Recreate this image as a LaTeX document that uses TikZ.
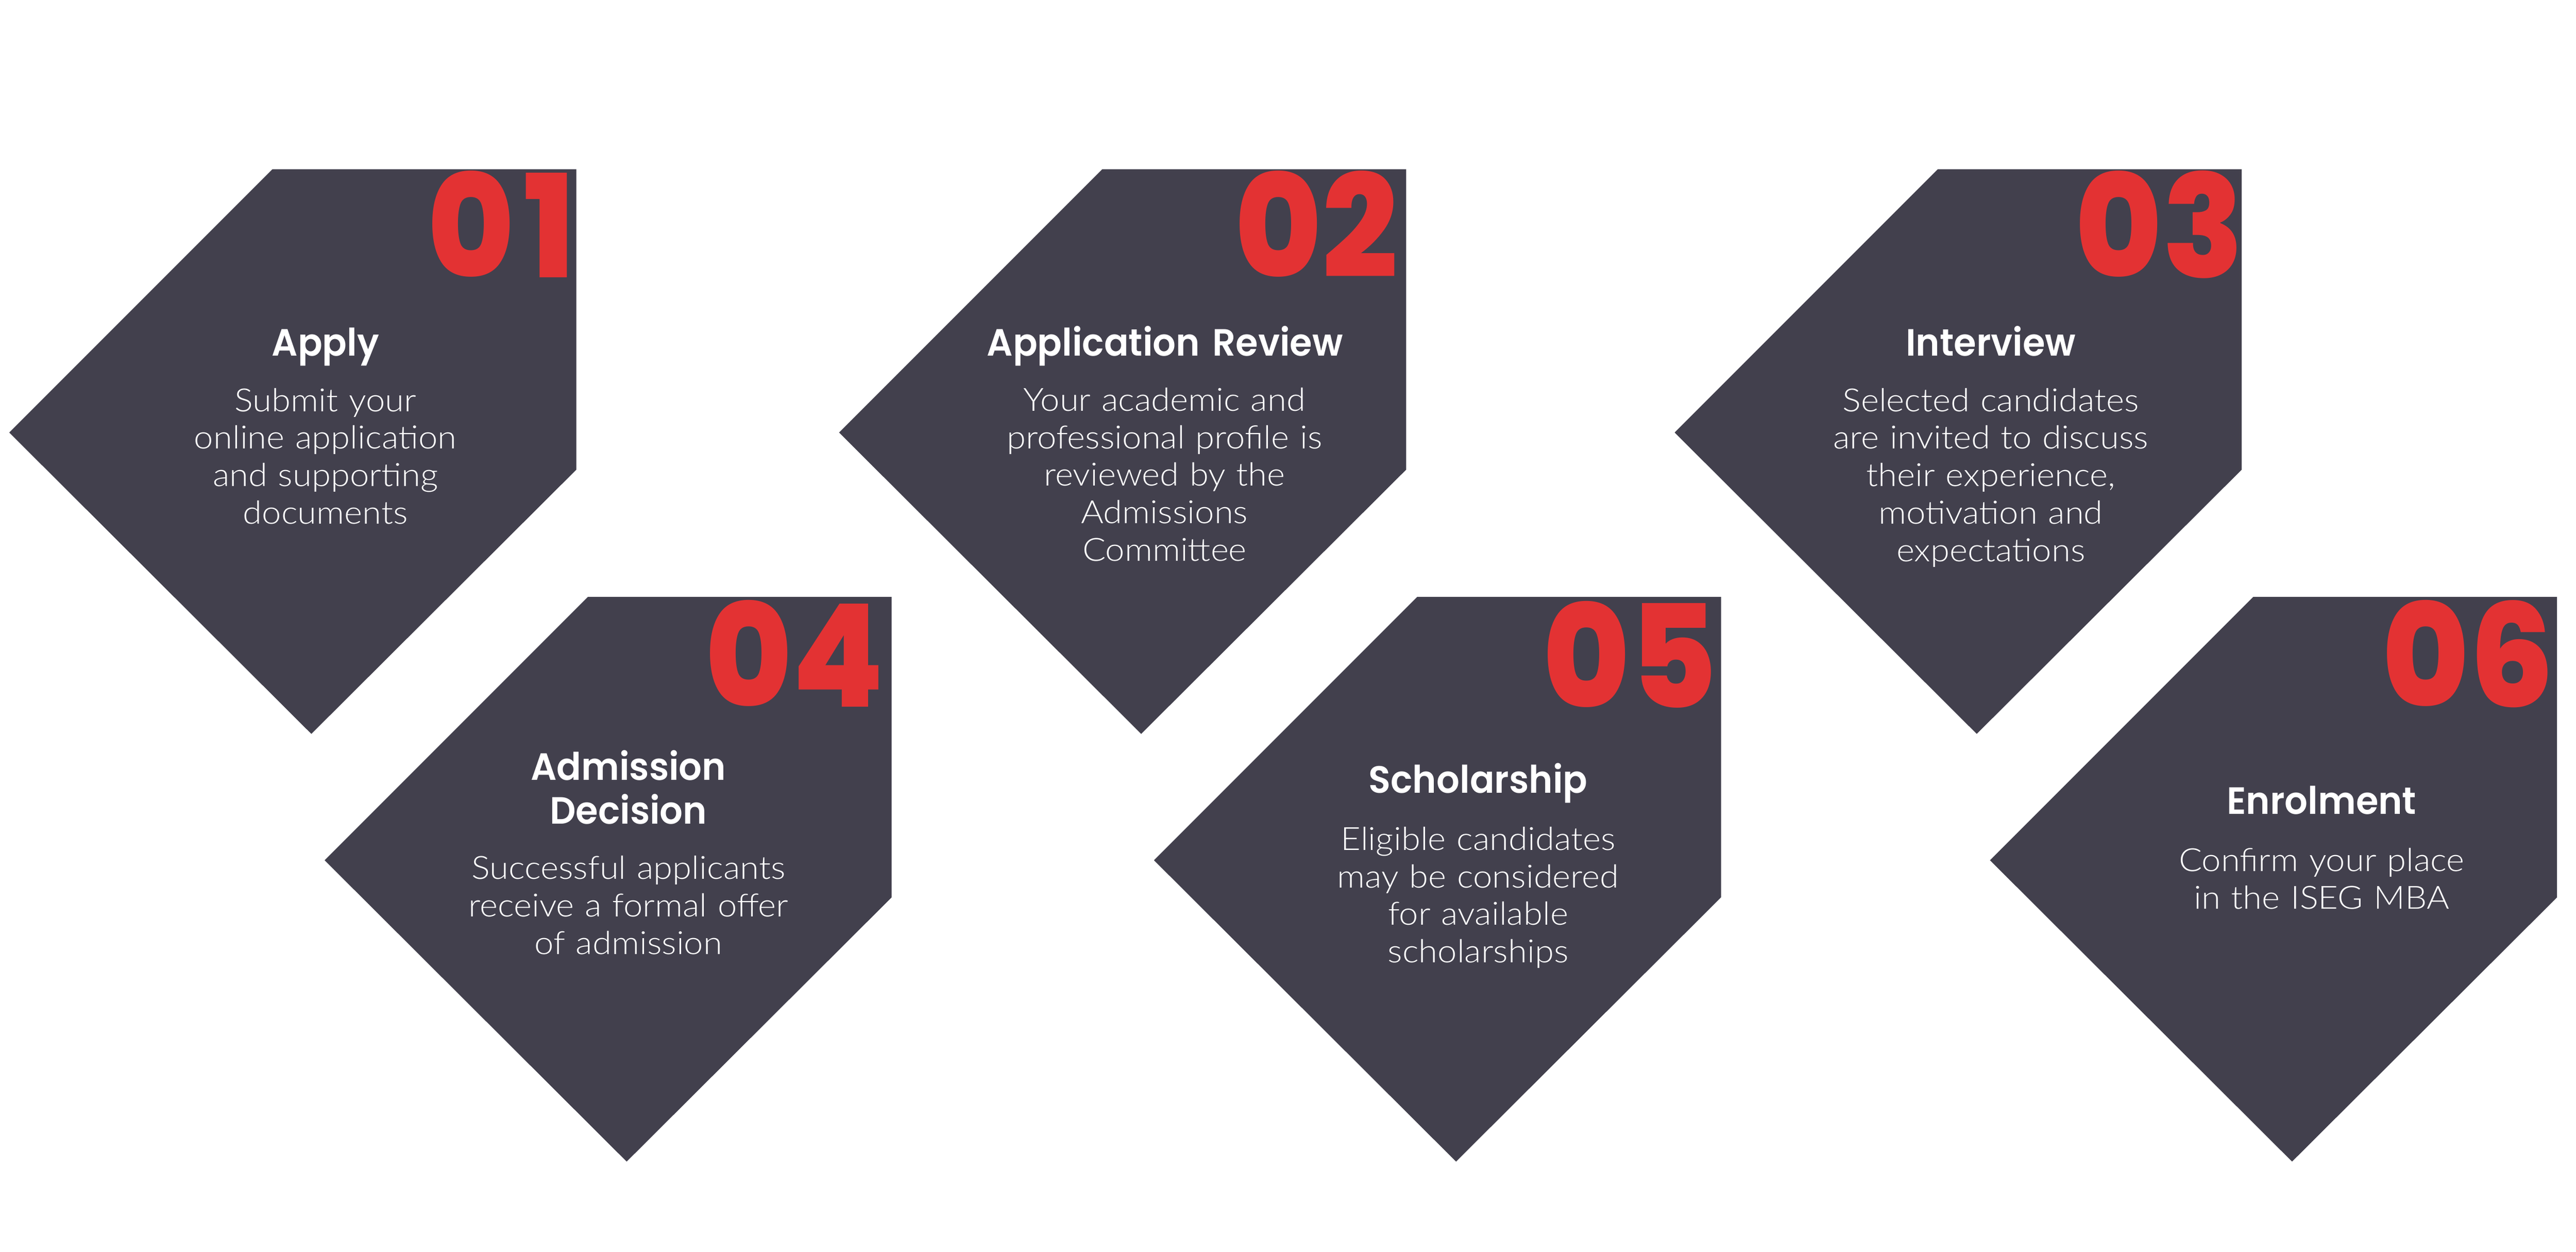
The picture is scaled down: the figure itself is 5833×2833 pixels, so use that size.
\documentclass[tikz,border=0pt]{standalone}
\usepackage{fontspec}
\IfFontExistsTF{Lato Light}{\newfontfamily\bodyfont{Lato Light}[FakeStretch=1.08]}{\newfontfamily\bodyfont{Lato}[FakeStretch=1.08]}
\IfFontExistsTF{Poppins SemiBold}{\newfontfamily\titlefont{Poppins SemiBold}[FakeStretch=0.955]}{\newfontfamily\titlefont{Poppins}[FakeStretch=0.955]}
\IfFontExistsTF{Poppins ExtraBold}{\newfontfamily\numfont{Poppins ExtraBold}[FakeStretch=0.93]}{\newfontfamily\numfont{Poppins}[FakeStretch=0.93]}
\definecolor{cardgray}{RGB}{66,64,77}
\definecolor{numred}{RGB}{227,50,51}
\tikzset{
  card/.style={fill=cardgray},
  num/.style={anchor=base east, inner sep=0pt, text=numred, font=\numfont\fontsize{81}{81}\selectfont},
  ttl/.style={anchor=base, inner sep=0pt, text=white, align=center, text width=300pt, font=\titlefont\fontsize{21.5}{24.75}\selectfont},
  bdy/.style={anchor=base, inner sep=0pt, text=white, align=center, text width=300pt, font=\bodyfont\fontsize{18.1}{21.25}\selectfont},
}
\begin{document}
\begin{tikzpicture}[x=0.25pt,y=-0.25pt]
\fill[white] (0,0) rectangle (5833,2833);
\useasboundingbox (0,0) rectangle (5833,2833);
% cards
\foreach \dx/\dy in {0/0,1879/0,3771/0,714/968,2592/968,4485/968}{
  \fill[card, shift={(\dx,\dy)}] (21,979) -- (617,383) -- (1305,383) -- (1305,1063) -- (705,1661) -- cycle;
}
% 01
\node[num] (n1) at (1303,628) {0\kern5pt 1};
\node[ttl] (t1) at (737,806) {Apply};
\node[bdy] (b1) at (737,931) {Submit your\\online application\\and supporting\\documents};
% 02
\node[num] (n2) at (3166,628) {02};
\node[ttl] (t2) at (2638,806) {Application Review};
\node[bdy] (b2) at (2637,930) {Your academic and\\professional profile is\\reviewed by the\\Admissions\\Committee};
% 03
\node[num] (n3) at (5081,628) {03};
\node[ttl] (t3) at (4508,806) {Interview};
\node[bdy] (b3) at (4508,931) {Selected candidates\\are invited to discuss\\their experience,\\motivation and\\expectations};
% 04
\node[num] (n4) at (2003,1600) {04};
\node[ttl] (t4) at (1423,1766) {Admission\\Decision};
\node[bdy] (b4) at (1423,1990) {Successful applicants\\receive a formal offer\\of admission};
% 05
\node[num] (n5) at (3889,1602) {05};
\node[ttl] (t5) at (3347,1795) {Scholarship};
\node[bdy] (b5) at (3347,1924) {Eligible candidates\\may be considered\\for available\\scholarships};
% 06
\node[num] (n6) at (5784,1600) {06};
\node[ttl] (t6) at (5257,1843) {Enrolment};
\node[bdy] (b6) at (5257,1972) {Confirm your place\\in the ISEG MBA};
\end{tikzpicture}
\end{document}
